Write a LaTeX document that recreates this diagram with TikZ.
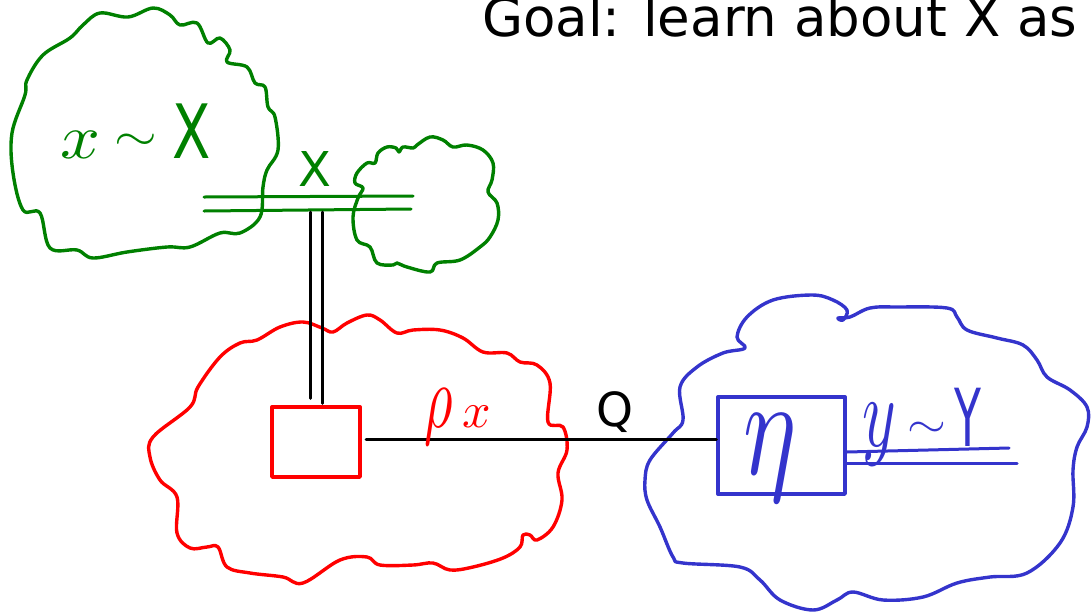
\documentclass[tikz,border=0pt]{standalone}
\usepackage{fontspec}
\setmainfont{DejaVu Sans}
\definecolor{inkgreen}{RGB}{0,128,0}
\definecolor{inkred}{RGB}{255,0,0}
\definecolor{inkblue}{RGB}{52,52,204}
\tikzset{
  pen/.style={line width=3.4pt, line cap=round, line join=round},
  cloudG/.style={pen, draw=inkgreen},
  cloudR/.style={pen, draw=inkred},
  cloudB/.style={pen, draw=inkblue},
  wire/.style={pen, draw=black, line width=3pt},
  gwire/.style={pen, draw=inkgreen, line width=3pt},
  bwire/.style={pen, draw=inkblue, line width=3pt},
  redbox/.style={pen, draw=inkred, minimum width=88pt, minimum height=70pt, inner sep=0pt},
  bluebox/.style={pen, draw=inkblue, minimum width=127pt, minimum height=97pt, inner sep=0pt},
  typed/.style={inner sep=0pt, anchor=base},
}
\begin{document}
\begin{tikzpicture}[x=1pt, y=-1pt]
\useasboundingbox (0,0) rectangle (1091,611);

% title
\node[typed, anchor=base west] (goal) at (482,36)
  {\fontsize{53}{60}\selectfont Goal: learn about X as};

% green source cloud (large)
\draw[cloudG] plot[smooth cycle, tension=0.6] coordinates {
  (12,133) (25,95) (27,80) (43,55) (70,38) (83,25) (100,13) (128,17)
  (153,8) (170,15) (180,25) (197,23) (208,43) (220,38) (230,50) (227,62)
  (247,67) (255,83) (265,87) (268,107) (275,117) (278,150) (267,170)
  (263,187) (260,217) (240,233) (220,233) (190,247) (167,247) (127,252)
  (93,258) (77,250) (50,248) (40,213) (23,210) (13,173)};

% green cloud (small)
\draw[cloudG] plot[smooth cycle, tension=0.6] coordinates {
  (357,173) (367,163) (375,163) (378,153) (387,147) (396,148) (399,152)
  (403,147) (413,148) (417,145) (430,137) (443,140) (453,147) (467,145)
  (483,150) (493,163) (492,180) (488,192) (497,203) (498,220) (490,237)
  (480,247) (460,260) (437,263) (430,272) (407,267) (397,263) (393,265)
  (377,263) (370,247) (357,240) (353,217) (358,198) (363,188) (355,183)};

% red cloud
\draw[cloudR] plot[smooth cycle, tension=0.6] coordinates {
  (150,457) (153,437) (190,407) (198,387) (220,357) (240,343) (257,340)
  (280,327) (303,322) (322,328) (333,332) (347,323) (367,315) (380,320)
  (397,333) (413,330) (440,330) (463,338) (483,352) (507,353) (520,362)
  (537,365) (550,383) (548,422) (563,427) (567,450) (558,473) (562,500)
  (553,527) (537,540) (530,535) (523,535) (520,547) (503,558) (473,567)
  (450,570) (433,563) (413,565) (380,565) (367,557) (340,560) (303,583)
  (283,577) (250,573) (227,567) (218,547) (207,547) (190,548) (177,533)
  (177,497) (160,480)};

% blue cloud
\draw[cloudB] plot[smooth cycle, tension=0.6] coordinates {
  (645,480) (650,460) (673,433) (683,420) (680,387) (697,367) (723,353)
  (745,348) (737,337) (747,317) (773,300) (812,295) (833,300) (847,310)
  (843,320) (838,318) (850,317) (870,308) (897,307) (947,308) (957,317)
  (967,330) (997,338) (1023,345) (1037,360) (1047,377) (1070,390)
  (1087,407) (1087,427) (1077,447) (1073,470) (1073,507) (1060,543)
  (1027,573) (990,577) (957,583) (923,597) (883,600) (853,592) (837,600)
  (813,610) (780,600) (760,580) (740,567) (683,563) (673,557) (660,527)
  (647,500)};

% boxes
\node[redbox] (rbox) at (316,442) {};
\node[bluebox] (bbox) at (781.5,445.5) {};

% green double wire between the two green clouds
\coordinate (gA1) at (204,197);
\coordinate (gB1) at (413,196);
\coordinate (gA2) at (204,211);
\coordinate (gB2) at (411,209);
\draw[gwire] (gA1) -- (gB1);
\draw[gwire] (gA2) -- (gB2);
\node[typed, text=inkgreen] (xlab) at (315,186) {\fontsize{48}{54}\selectfont X};

% black double wire down into the red box
\coordinate (vL) at (310,212);
\coordinate (vR) at (322,212);
\draw[wire] (vL) -- ([xshift=-6pt, yshift=7pt]rbox.north);
\draw[wire] (vR) -- ([xshift=6pt, yshift=2pt]rbox.north);

% black wire from red box to blue box
\coordinate (qs) at (366,439);
\draw[wire] (qs) -- (qs -| bbox.west);
\node[typed] (qlab) at (615,426) {\fontsize{47}{52}\selectfont Q};

% blue double wire out of the blue box
\coordinate (bE1) at (1009,448);
\coordinate (bE2) at (1017,463);
\draw[bwire] (bbox.east |- 0,452) -- (bE1);
\draw[bwire] (bbox.east |- 0,463) -- (bE2);

% handwritten labels
\node[typed, anchor=base west, text=inkgreen] (xdist) at (60,158)
  {\scalebox{7}[6.3]{$x$}\hspace{14pt}\raisebox{8pt}{\scalebox{5.5}[4.5]{$\sim$}}\hspace{16pt}\scalebox{5.6}[7.5]{$\mathrm{X}$}};
\node[typed, anchor=base west, text=inkred] (rho) at (424,427)
  {\scalebox{5.5}[9]{$\rho$}\hspace{10pt}\scalebox{5}{$x$}};
\node[typed, text=inkblue] (eta) at (770,474) {\scalebox{10}[14]{$\eta$}};
\node[typed, anchor=base west, text=inkblue] (ydist) at (862,446)
  {\scalebox{6.4}[10]{$y$}\hspace{12pt}\raisebox{9pt}{\scalebox{5}[4.2]{$\sim$}}\hspace{8pt}\scalebox{4.4}[8]{$\mathrm{Y}$}};
\end{tikzpicture}
\end{document}
